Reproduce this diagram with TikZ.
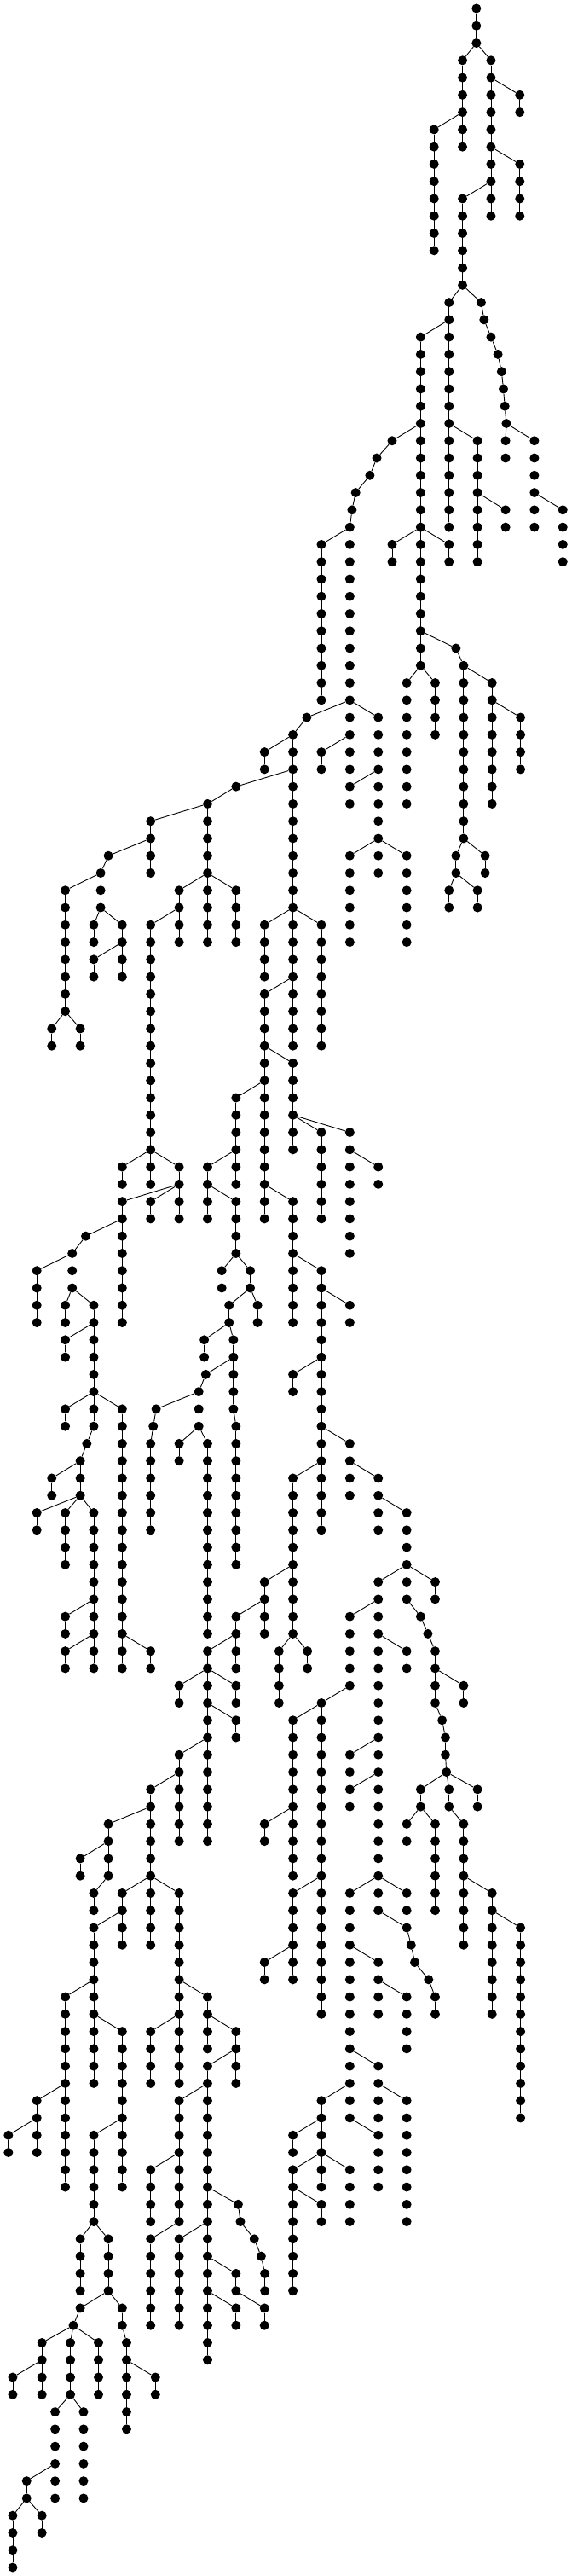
\documentclass[tikz,border=0pt]{standalone}
\tikzset{dot/.style={circle,fill=black,draw=none,inner sep=0pt,minimum size=11pt},
  edge/.style={line width=0.9pt,black}}
\newcommand\tch[3]{\foreach \l in {#2,...,#3}{\node[dot] (c#1-\l) at (#1,\l) {};}\draw[edge] (c#1-#2) -- (c#1-#3);}
\newcommand\tsn[2]{\node[dot] (c#1-#2) at (#1,#2) {};}
\newcommand\ted[3]{\pgfmathtruncatemacro\nxl{#2+1}\draw[edge] (c#1-#2) -- (c#3-\nxl);}
\begin{document}
\begin{tikzpicture}[x=0.4279pt,y=-20.27pt]
\useasboundingbox (0,-0.4933) rectangle (1566,148.495);
% chains
\tch{1306}{0}{2}
\tch{1268}{3}{8}
\tch{1346}{3}{12}
\tch{1425}{5}{6}
\tch{1425}{9}{12}
\tch{1190}{7}{14}
\tch{1268}{11}{16}
\tch{1231}{17}{30}
\tch{1153}{19}{38}
\tsn{1319}{17}\tsn{1327}{18}\tsn{1346}{19}\tsn{1365}{20}\tsn{1375}{21}\tsn{1380}{22}\tsn{1384}{23}\tsn{1388}{24}
\tch{1386}{25}{26}
\tch{1465}{25}{30}
\tch{1543}{29}{32}
\tch{1309}{25}{32}
\tch{1386}{29}{30}
\tsn{1075}{25}\tsn{1033}{26}\tsn{1014}{27}\tsn{975}{28}\tsn{965}{29}
\tch{959}{30}{44}
\tch{881}{31}{40}
\tch{1075}{31}{32}
\tch{1231}{31}{32}
\tsn{1250}{37}
\tch{1271}{38}{48}
\tch{1349}{39}{46}
\tch{1427}{41}{44}
\tch{1115}{39}{46}
\tch{1193}{39}{42}
\tch{1250}{49}{50}
\tch{1330}{49}{50}
\tch{1231}{51}{52}
\tch{1309}{51}{52}
\tsn{841}{41}
\tch{1037}{41}{50}
\tch{881}{43}{44}
\tch{803}{42}{60}
\tch{725}{43}{44}
\tsn{647}{45}
\tch{569}{46}{54}
\tch{413}{47}{50}
\tsn{297}{49}
\tch{276}{50}{52}
\tch{959}{45}{46}
\tch{959}{49}{54}
\tch{1115}{49}{54}
\tch{179}{51}{58}
\tch{257}{53}{54}
\tch{335}{53}{56}
\tch{257}{55}{56}
\tch{142}{59}{60}
\tch{220}{59}{60}
\tch{491}{51}{54}
\tch{647}{51}{54}
\tch{413}{53}{68}
\tch{725}{53}{56}
\tch{881}{53}{60}
\tch{725}{57}{70}
\tch{803}{61}{66}
\tch{335}{67}{68}
\tch{491}{67}{70}
\tch{335}{69}{76}
\tch{413}{69}{70}
\tsn{235}{71}
\tch{198}{72}{74}
\tch{101}{73}{76}
\tch{647}{63}{68}
\tch{569}{67}{70}
\tch{647}{69}{72}
\tch{608}{73}{74}
\tch{686}{73}{74}
\tch{803}{69}{76}
\tch{881}{73}{88}
\tch{881}{65}{70}
\tch{959}{65}{72}
\tch{1037}{67}{68}
\tch{179}{75}{76}
\tch{257}{75}{82}
\tch{179}{77}{78}
\tch{179}{81}{82}
\tch{335}{81}{96}
\tsn{238}{83}
\tch{220}{84}{86}
\tch{142}{85}{86}
\tch{628}{75}{76}
\tch{706}{75}{76}
\tch{560}{77}{78}
\tch{640}{77}{81}
\tch{647}{82}{90}
\tsn{564}{79}
\tch{545}{80}{82}
\tsn{428}{81}
\tsn{420}{82}
\tch{413}{83}{88}
\tch{491}{83}{84}
\tch{569}{83}{94}
\tch{959}{75}{76}
\tch{803}{79}{80}
\tch{959}{83}{86}
\tch{1037}{85}{88}
\tch{803}{85}{94}
\tch{101}{87}{88}
\tch{179}{87}{90}
\tch{257}{87}{96}
\tch{179}{93}{94}
\tch{179}{95}{96}
\tch{413}{95}{96}
\tch{725}{91}{94}
\tch{647}{93}{96}
\tch{569}{95}{106}
\tch{765}{95}{98}
\tch{843}{95}{96}
\tch{491}{97}{98}
\tch{647}{97}{98}
\tch{647}{99}{100}
\tch{1115}{87}{92}
\tch{1037}{91}{110}
\tch{1193}{91}{92}
\tsn{1153}{93}
\tsn{1173}{94}
\tch{1193}{95}{98}
\tch{1271}{97}{98}
\tsn{1212}{99}
\tch{959}{93}{97}
\tch{881}{98}{116}
\tch{1115}{95}{96}
\tch{803}{99}{108}
\tch{491}{101}{106}
\tch{413}{103}{112}
\tch{297}{105}{108}
\tch{220}{107}{108}
\tch{257}{109}{110}
\tch{335}{109}{112}
\tch{491}{109}{120}
\tch{257}{111}{120}
\tch{725}{105}{106}
\tch{803}{109}{114}
\tch{959}{101}{102}
\tch{959}{103}{104}
\tch{959}{109}{122}
\tch{1115}{109}{110}
\tsn{1115}{111}\tsn{1127}{112}\tsn{1137}{113}\tsn{1175}{114}
\tch{1193}{115}{116}
\tch{1221}{100}{101}
\tsn{1224}{102}
\tch{1153}{103}{104}
\tch{1231}{103}{104}
\tch{1309}{103}{104}
\tch{1115}{105}{106}
\tch{1193}{105}{110}
\tch{1271}{105}{112}
\tch{1349}{109}{116}
\tch{1427}{111}{122}
\tch{179}{115}{126}
\tch{335}{117}{126}
\tch{413}{117}{120}
\tch{569}{115}{118}
\tch{647}{117}{120}
\tch{569}{119}{136}
\tch{491}{121}{128}
\tch{101}{121}{124}
\tch{23}{123}{124}
\tch{257}{123}{128}
\tch{725}{113}{114}
\tch{1037}{113}{116}
\tch{1115}{115}{118}
\tch{1037}{119}{122}
\tch{1115}{121}{128}
\tch{881}{121}{126}
\tch{803}{123}{124}
\tch{1037}{123}{126}
\tch{220}{129}{132}
\tch{297}{129}{132}
\tsn{220}{133}
\tsn{201}{134}
\tch{335}{133}{134}
\tch{347}{135}{140}
\tch{115}{135}{138}
\tch{193}{135}{138}
\tch{270}{135}{138}
\tch{413}{125}{128}
\tch{413}{129}{134}
\tch{491}{129}{134}
\tsn{653}{127}\tsn{659}{128}\tsn{697}{129}\tsn{716}{130}
\tch{726}{131}{132}
\tch{647}{131}{132}
\tch{725}{133}{134}
\tch{647}{133}{134}
\tch{803}{125}{132}
\tch{881}{127}{128}
\tch{959}{125}{128}
\tch{35}{137}{138}
\tch{426}{137}{138}
\tch{151}{139}{144}
\tch{229}{139}{144}
\tch{73}{143}{144}
\tch{35}{145}{148}
\tch{115}{145}{146}
% cross edges
\ted{1306}{2}{1268}\ted{1306}{2}{1346}\ted{1346}{4}{1425}\ted{1346}{8}{1425}
\ted{1268}{6}{1190}\ted{1346}{10}{1268}\ted{1268}{16}{1231}\ted{1268}{16}{1319}
\ted{1319}{17}{1327}\ted{1327}{18}{1346}\ted{1346}{19}{1365}\ted{1365}{20}{1375}
\ted{1375}{21}{1380}\ted{1380}{22}{1384}\ted{1384}{23}{1388}\ted{1388}{24}{1386}
\ted{1388}{24}{1465}\ted{1231}{18}{1153}\ted{1153}{24}{1075}\ted{1075}{25}{1033}
\ted{1033}{26}{1014}\ted{1014}{27}{975}\ted{975}{28}{965}\ted{965}{29}{959}
\ted{1231}{24}{1309}\ted{1309}{28}{1386}\ted{1465}{28}{1543}\ted{959}{30}{881}
\ted{1153}{30}{1075}\ted{1153}{30}{1231}\ted{1153}{36}{1250}\ted{1250}{37}{1271}
\ted{1271}{38}{1349}\ted{1349}{40}{1427}\ted{1153}{38}{1115}\ted{1153}{38}{1193}
\ted{1271}{48}{1250}\ted{1271}{48}{1330}\ted{1250}{50}{1231}\ted{1250}{50}{1309}
\ted{959}{40}{841}\ted{959}{40}{1037}\ted{959}{42}{881}\ted{841}{41}{803}
\ted{803}{42}{725}\ted{803}{44}{647}\ted{647}{45}{569}\ted{569}{46}{413}
\ted{413}{48}{297}\ted{297}{49}{276}\ted{1037}{44}{959}\ted{1037}{48}{959}
\ted{1037}{48}{1115}\ted{276}{50}{179}\ted{276}{52}{257}\ted{276}{52}{335}
\ted{335}{54}{257}\ted{179}{58}{142}\ted{179}{58}{220}\ted{569}{50}{491}
\ted{569}{50}{647}\ted{491}{52}{413}\ted{803}{52}{725}\ted{803}{52}{881}
\ted{803}{56}{725}\ted{725}{60}{803}\ted{413}{66}{335}\ted{413}{66}{491}
\ted{491}{68}{335}\ted{491}{68}{413}\ted{335}{70}{235}\ted{235}{71}{198}
\ted{198}{72}{101}\ted{725}{62}{647}\ted{647}{66}{569}\ted{569}{68}{647}
\ted{647}{72}{608}\ted{647}{72}{686}\ted{725}{68}{803}\ted{803}{72}{881}
\ted{803}{64}{881}\ted{803}{64}{959}\ted{959}{66}{1037}\ted{198}{74}{179}
\ted{198}{74}{257}\ted{257}{76}{179}\ted{257}{80}{179}\ted{257}{80}{335}
\ted{257}{82}{238}\ted{238}{83}{220}\ted{220}{84}{142}\ted{686}{74}{628}
\ted{686}{74}{706}\ted{628}{76}{560}\ted{628}{76}{640}\ted{640}{81}{647}
\ted{640}{78}{564}\ted{564}{79}{545}\ted{545}{80}{428}\ted{428}{81}{420}
\ted{420}{82}{413}\ted{545}{82}{491}\ted{545}{82}{569}\ted{881}{74}{959}
\ted{881}{78}{803}\ted{881}{82}{959}\ted{959}{84}{1037}\ted{881}{84}{803}
\ted{220}{86}{101}\ted{220}{86}{179}\ted{220}{86}{257}\ted{257}{92}{179}
\ted{257}{94}{179}\ted{335}{94}{413}\ted{803}{90}{725}\ted{725}{92}{647}
\ted{647}{94}{569}\ted{803}{94}{765}\ted{803}{94}{843}\ted{569}{96}{491}
\ted{569}{96}{647}\ted{569}{98}{647}\ted{1037}{86}{1115}\ted{1115}{90}{1037}
\ted{1115}{90}{1193}\ted{1115}{92}{1153}\ted{1153}{93}{1173}\ted{1173}{94}{1193}
\ted{1193}{96}{1271}\ted{1193}{98}{1212}\ted{1037}{92}{959}\ted{959}{97}{881}
\ted{1037}{94}{1115}\ted{881}{98}{803}\ted{569}{100}{491}\ted{491}{102}{413}
\ted{413}{104}{297}\ted{297}{106}{220}\ted{297}{108}{257}\ted{413}{108}{335}
\ted{413}{108}{491}\ted{335}{110}{257}\ted{803}{104}{725}\ted{881}{108}{803}
\ted{1037}{100}{959}\ted{1037}{102}{959}\ted{1037}{108}{959}\ted{1037}{108}{1115}
\ted{1037}{110}{1115}\ted{1115}{111}{1127}\ted{1127}{112}{1137}\ted{1137}{113}{1175}
\ted{1175}{114}{1193}\ted{1212}{99}{1221}\ted{1221}{101}{1224}\ted{1224}{102}{1153}
\ted{1224}{102}{1231}\ted{1224}{102}{1309}\ted{1153}{104}{1115}\ted{1153}{104}{1193}
\ted{1231}{104}{1271}\ted{1271}{108}{1349}\ted{1349}{110}{1427}\ted{257}{114}{179}
\ted{257}{116}{335}\ted{491}{116}{413}\ted{491}{114}{569}\ted{569}{116}{647}
\ted{647}{118}{569}\ted{569}{120}{491}\ted{179}{120}{101}\ted{101}{122}{23}
\ted{335}{122}{257}\ted{803}{112}{725}\ted{959}{112}{1037}\ted{1037}{114}{1115}
\ted{959}{118}{1037}\ted{1037}{120}{1115}\ted{959}{120}{881}\ted{881}{122}{803}
\ted{959}{122}{1037}\ted{257}{128}{220}\ted{257}{128}{297}\ted{297}{132}{220}
\ted{220}{133}{201}\ted{297}{132}{335}\ted{335}{134}{347}\ted{201}{134}{115}
\ted{201}{134}{193}\ted{201}{134}{270}\ted{491}{124}{413}\ted{491}{128}{413}
\ted{569}{128}{491}\ted{569}{126}{653}\ted{653}{127}{659}\ted{659}{128}{697}
\ted{697}{129}{716}\ted{716}{130}{726}\ted{569}{130}{647}\ted{647}{132}{725}
\ted{569}{132}{647}\ted{881}{124}{803}\ted{803}{126}{881}\ted{881}{124}{959}
\ted{115}{136}{35}\ted{347}{136}{426}\ted{193}{138}{151}\ted{193}{138}{229}
\ted{151}{142}{73}\ted{73}{144}{35}\ted{73}{144}{115}
\end{tikzpicture}
\end{document}
